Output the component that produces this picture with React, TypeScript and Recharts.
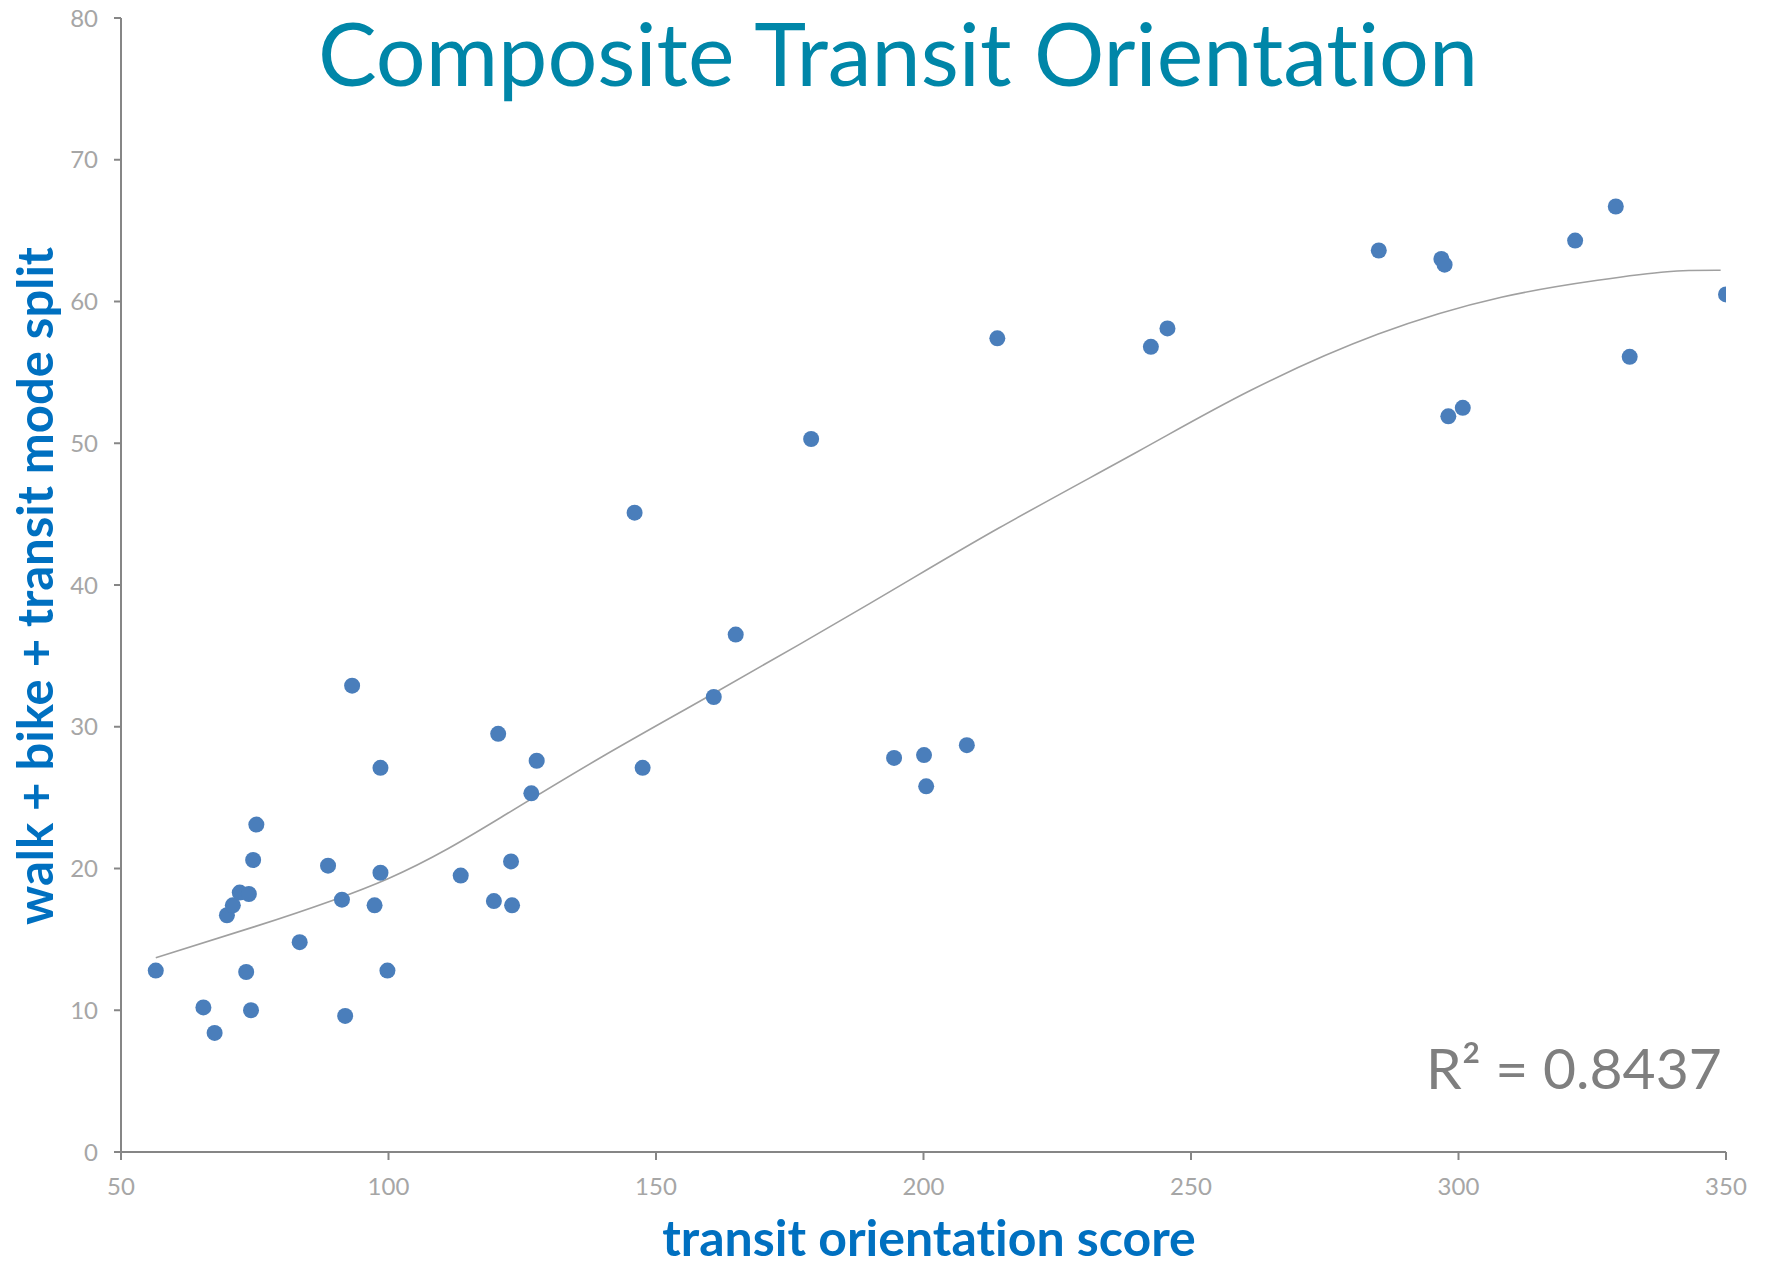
import { ComposedChart, Scatter, Line, XAxis, YAxis } from "recharts";

const scoreX = [
  56.5, 65.4, 67.5, 69.8, 70.9, 72.2, 73.9, 73.4, 74.3, 74.7, 75.3, 83.4, 88.7, 91.3, 91.9, 93.2,
  97.4, 98.5, 98.5, 99.8, 113.5, 119.7, 120.5, 122.9, 123.1, 126.7, 127.7, 146.0, 147.5, 160.8,
  164.9, 179.0, 194.5, 200.1, 200.5, 208.1, 213.8, 242.5, 245.6, 285.1, 296.8, 297.4, 298.1,
  300.8, 321.8, 329.4, 332.0, 350.0,
];
const modeSplit = [
  12.8, 10.2, 8.4, 16.7, 17.4, 18.3, 18.2, 12.7, 10.0, 20.6, 23.1, 14.8, 20.2, 17.8, 9.6, 32.9,
  17.4, 27.1, 19.7, 12.8, 19.5, 17.7, 29.5, 20.5, 17.4, 25.3, 27.6, 45.1, 27.1, 32.1,
  36.5, 50.3, 27.8, 28.0, 25.8, 28.7, 57.4, 56.8, 58.1, 63.6, 63.0, 62.6, 51.9,
  52.5, 64.3, 66.7, 56.1, 60.5,
];

// trend line
const trendX = [56.5, 75, 100, 121, 140, 161, 190, 214, 240, 261, 285, 308, 326, 339, 349];
const trendY = [13.7, 15.9, 19.3, 23.6, 27.9, 32.4, 38.7, 44.0, 49.4, 53.7, 57.7, 60.3, 61.5, 62.1, 62.2];

const xTicks = [50, 100, 150, 200, 250, 300, 350];
const yTicks = [0, 10, 20, 30, 40, 50, 60, 70, 80];

const points = scoreX.map((x, i) => ({ x, y: modeSplit[i] }));
const trend = trendX.map((x, i) => ({ x, y: trendY[i] }));

const FONT = "Lato, 'Open Sans', sans-serif";
const AXIS = "#868686";
const TICK = { fill: "#A6A6A6", fontSize: 24, fontFamily: FONT };

const Dot = (props: any) => <circle cx={props.cx} cy={props.cy} r={8} fill="#4A7EBB" />;

export default function App() {
  return (
    <div
      style={{
        position: "absolute",
        left: 0,
        top: 0,
        width: 1778,
        height: 1269,
        background: "#fff",
        fontVariantLigatures: "none",
      }}
    >
      <ComposedChart width={1778} height={1269} margin={{ top: 18, right: 52, bottom: 57, left: 61 }}>
        <XAxis
          type="number"
          dataKey="x"
          domain={[50, 350]}
          ticks={xTicks}
          allowDataOverflow
          height={60}
          stroke={AXIS}
          strokeWidth={2}
          tickSize={8}
          tickMargin={18}
          tick={TICK}
        />
        <YAxis
          type="number"
          dataKey="y"
          domain={[0, 80]}
          ticks={yTicks}
          width={60}
          stroke={AXIS}
          strokeWidth={2}
          tickSize={7}
          tickMargin={16}
          tick={TICK}
        />
        <Line
          data={trend}
          dataKey="y"
          type="natural"
          stroke="#A0A0A0"
          strokeWidth={1.6}
          dot={false}
          activeDot={false}
          isAnimationActive={false}
        />
        <Scatter data={points} dataKey="y" shape={Dot} isAnimationActive={false} />
      </ComposedChart>

      <div
        style={{
          position: "absolute",
          left: 0,
          width: 1778,
          top: 0,
          marginLeft: 9,
          textAlign: "center",
          fontFamily: FONT,
          fontSize: 88,
          lineHeight: 1.2,
          color: "#0086A8",
        }}
      >
        Composite Transit Orientation
      </div>

      <div
        style={{
          position: "absolute",
          left: 1426,
          top: 1031,
          fontFamily: FONT,
          fontSize: 57,
          lineHeight: "72px",
          color: "#7F7F7F",
          whiteSpace: "nowrap",
        }}
      >
        R² = 0.8437
      </div>

      <div
        style={{
          position: "absolute",
          left: 929,
          top: 1207,
          transform: "translateX(-50%)",
          fontFamily: FONT,
          fontWeight: 700,
          fontSize: 50,
          lineHeight: 1.2,
          color: "#0070C0",
          whiteSpace: "nowrap",
        }}
      >
        transit orientation score
      </div>

      <div
        style={{
          position: "absolute",
          left: 34,
          top: 586,
          transform: "translate(-50%, -50%) rotate(-90deg)",
          fontFamily: FONT,
          fontWeight: 700,
          fontSize: 49,
          color: "#0070C0",
          whiteSpace: "nowrap",
        }}
      >
        walk + bike + transit mode split
      </div>
    </div>
  );
}
